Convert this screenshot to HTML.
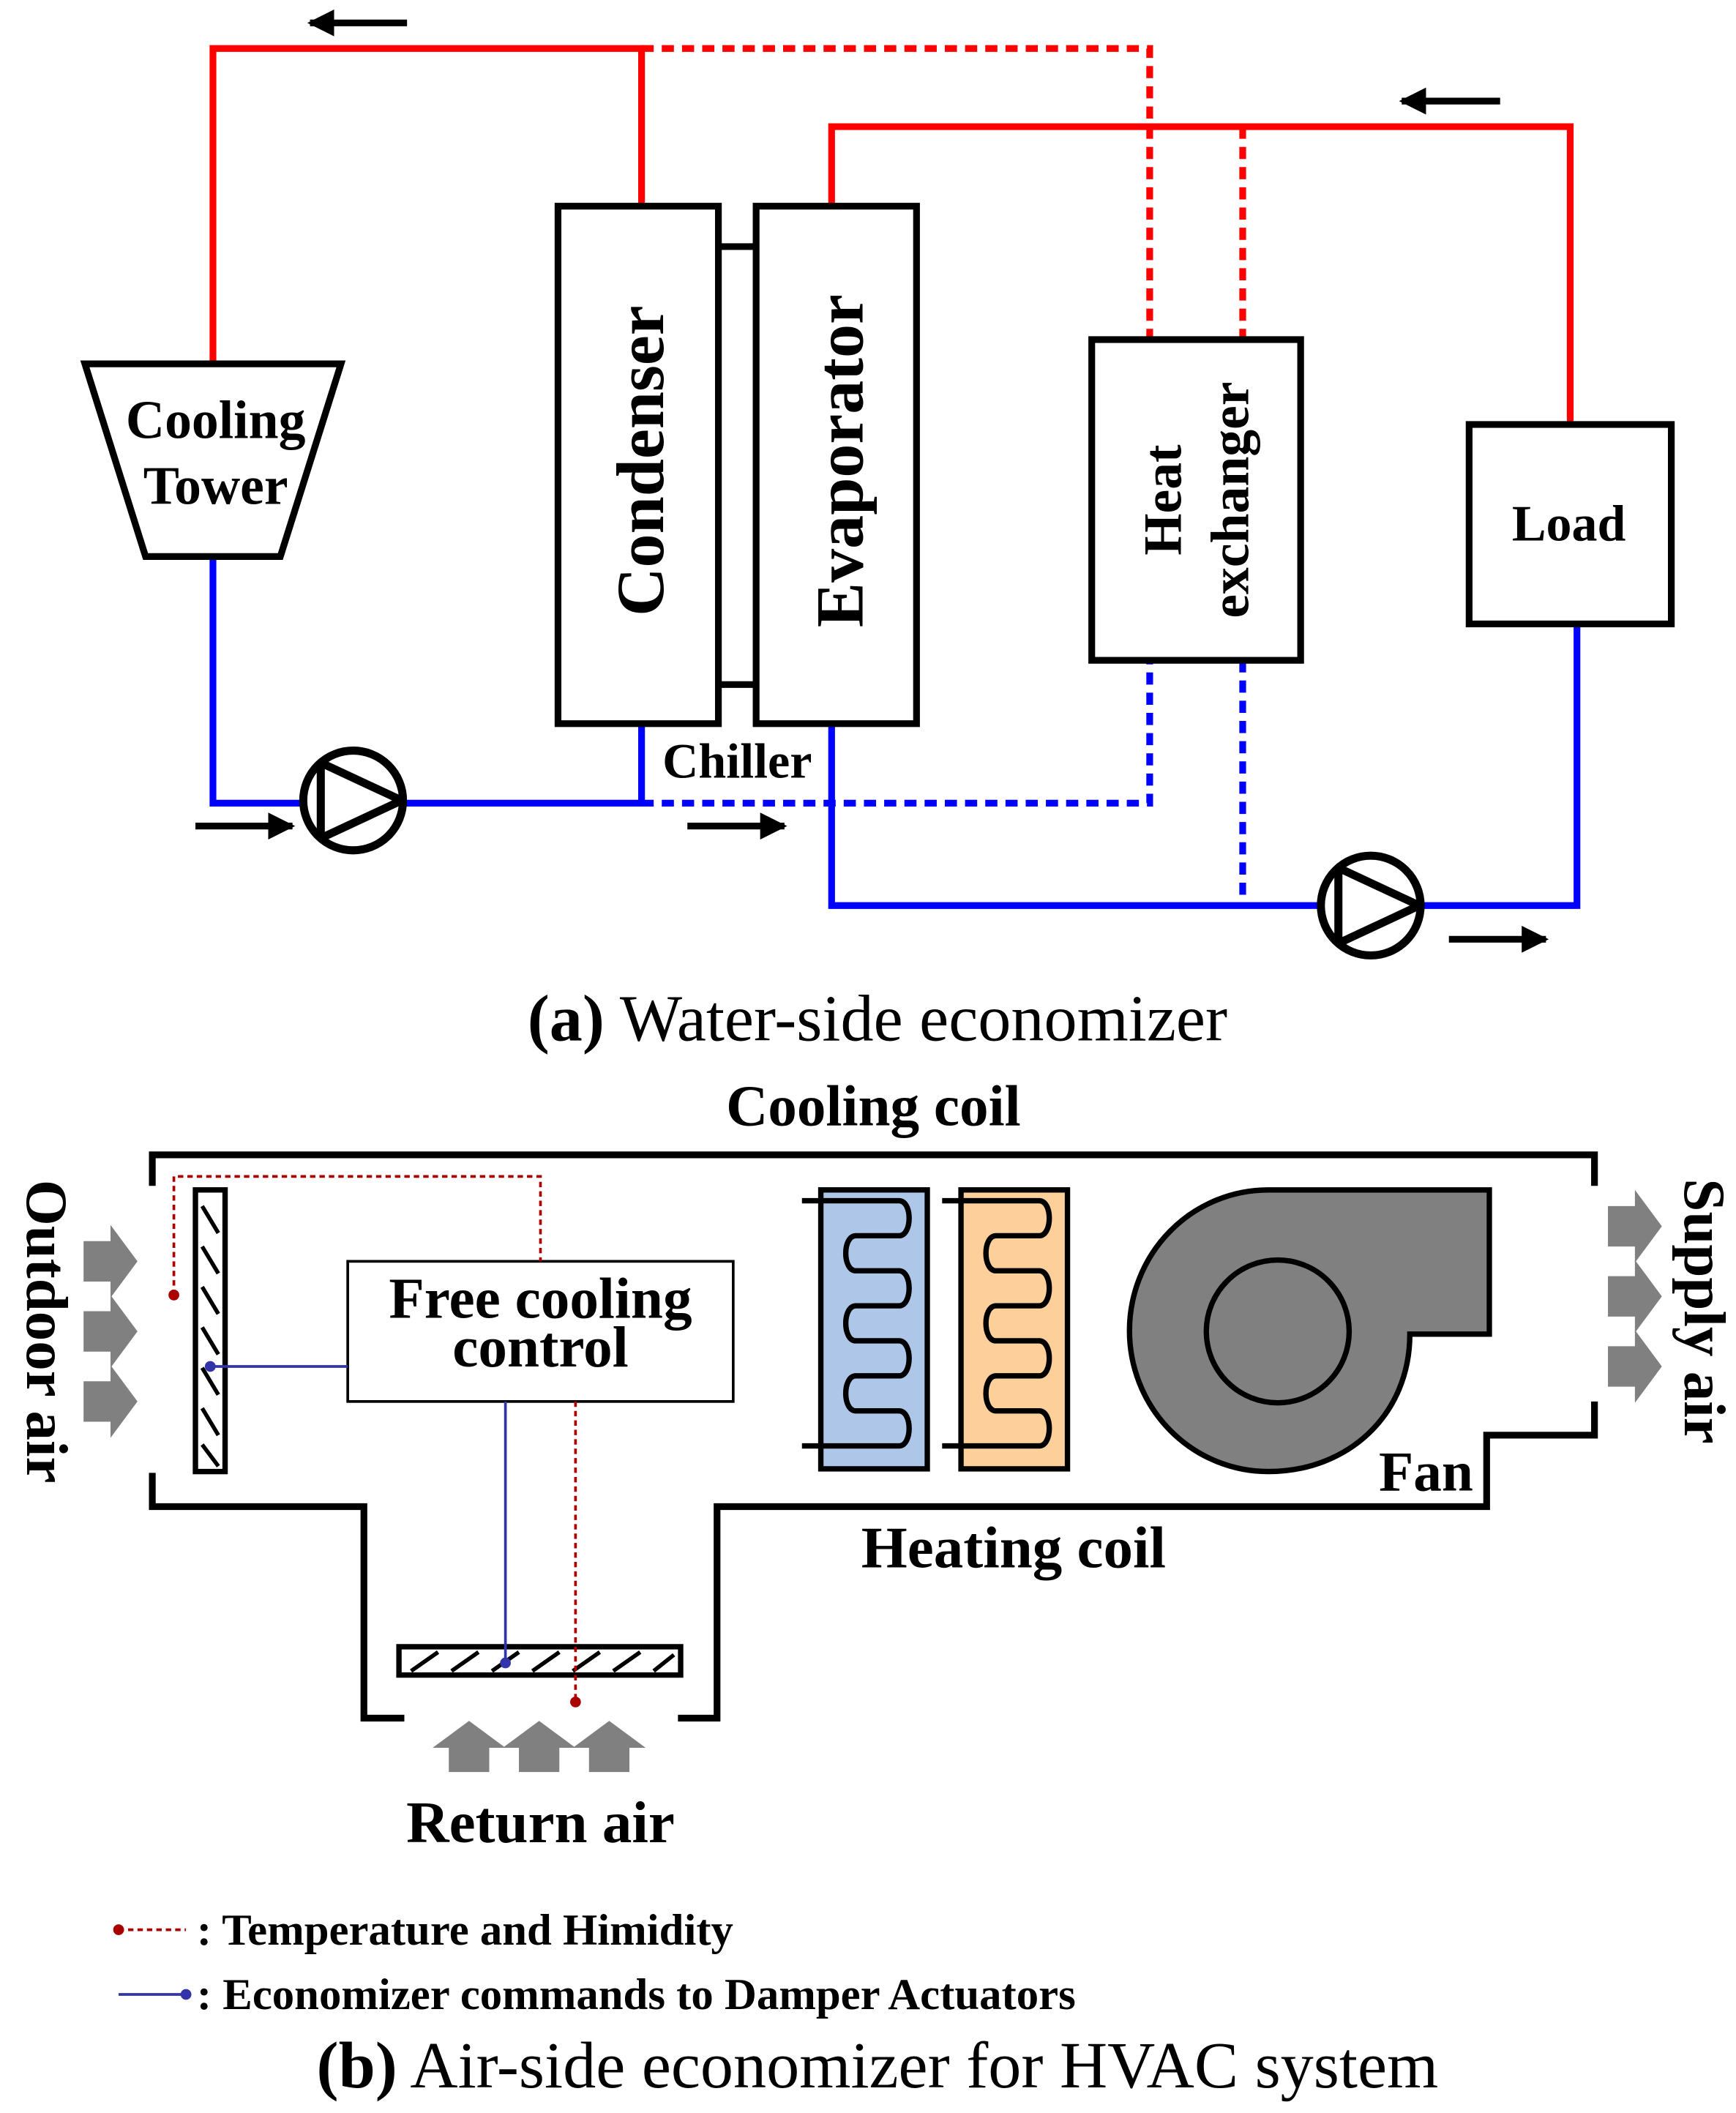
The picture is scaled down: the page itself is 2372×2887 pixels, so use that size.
<!DOCTYPE html>
<html><head><meta charset="utf-8"><style>html,body{margin:0;padding:0;background:#fff}svg{display:block}</style></head>
<body>
<svg width="2372" height="2887" viewBox="0 0 1288 1568" preserveAspectRatio="none" xmlns="http://www.w3.org/2000/svg" font-family="'Liberation Serif', serif">
<defs>
<marker id="ah" viewBox="0 0 10 10" refX="9" refY="5" markerWidth="4" markerHeight="4" orient="auto"><path d="M0 0 L10 5 L0 10 Z" fill="#000"/></marker>
<g id="pump"><circle cx="0" cy="0" r="37" fill="#fff" stroke="#000" stroke-width="6"/><path d="M-24 -28 L-24 28 L36 0 Z" fill="none" stroke="#000" stroke-width="6" stroke-linejoin="round"/></g>
<path id="serp" d="M-14 891 H58 C68 891 68 917 58 917 H26 C16 917 16 943 26 943 H58 C68 943 68 969 58 969 H26 C16 969 16 995 26 995 H58 C68 995 68 1021 58 1021 H26 C16 1021 16 1047 26 1047 H58 C68 1047 68 1073 58 1073 H-14" fill="none" stroke="#000" stroke-width="4"/>
<path id="chev" d="M0 0 L20 0 L20 -12 L40 15 L20 42 L20 30 L0 30 Z" fill="#808080"/>
<path id="up" d="M0 0 L0 -18 L-12 -18 L15 -38 L42 -18 L30 -18 L30 0 Z" fill="#808080"/>
</defs>
<g fill="none" stroke="#f00" stroke-width="5">
<path d="M158 270 V36 H476 V153"/>
<path d="M617 153 V94 H1165 V315"/>
</g>
<g fill="none" stroke="#f00" stroke-width="5" stroke-dasharray="9 6">
<path d="M476 36 H853 V252"/>
<path d="M922 94 V252"/>
</g>
<g fill="none" stroke="#00f" stroke-width="5">
<path d="M158 413 V596 H476 V537"/>
<path d="M617 537 V672 H1170 V463"/>
</g>
<g fill="none" stroke="#00f" stroke-width="5" stroke-dasharray="9 6">
<path d="M476 596 H853 V490"/>
<path d="M922 490 V672"/>
</g>
<use href="#pump" x="262" y="594"/>
<use href="#pump" x="1017" y="672"/>
<g stroke="#000" stroke-width="5" marker-end="url(#ah)">
<line x1="302" y1="17" x2="230" y2="17"/>
<line x1="1113" y1="75" x2="1040" y2="75"/>
<line x1="145" y1="613" x2="217" y2="613"/>
<line x1="510" y1="613" x2="582" y2="613"/>
<line x1="1075" y1="697" x2="1147" y2="697"/>
</g>
<path d="M63 270 H253 L208 413 H108 Z" fill="#fff" stroke="#000" stroke-width="5"/>
<g fill="#fff" stroke="#000" stroke-width="5">
<rect x="414" y="153" width="119" height="384"/>
<rect x="561" y="153" width="119" height="384"/>
<rect x="810" y="252" width="155" height="238"/>
<rect x="1090" y="315" width="150" height="148"/>
</g>
<g stroke="#000" stroke-width="5"><line x1="533" y1="183" x2="561" y2="183"/><line x1="533" y1="508" x2="561" y2="508"/></g>
<g font-weight="bold" fill="#000" text-anchor="middle">
<text x="160" y="325" font-size="40">Cooling</text>
<text x="160" y="374" font-size="40">Tower</text>
<text transform="translate(492,342) rotate(-90)" font-size="50">Condenser</text>
<text transform="translate(640,342) rotate(-90)" font-size="50">Evaporator</text>
<text transform="translate(876,371) rotate(-90)" font-size="40">Heat</text>
<text transform="translate(926,371) rotate(-90)" font-size="40">exchanger</text>
<text x="1164" y="401" font-size="38">Load</text>
<text x="547" y="577" font-size="37">Chiller</text>
</g>
<text x="651" y="772" font-size="49" text-anchor="middle"><tspan font-weight="bold">(a)</tspan> Water-side economizer</text>
<text x="648" y="835" font-size="43" font-weight="bold" text-anchor="middle">Cooling coil</text>
<g fill="none" stroke="#000" stroke-width="5">
<path d="M113 880 V857 H1183 V880"/>
<path d="M1183 1040 V1065 H1103 V1118 H532 V1275 H503"/>
<path d="M113 1093 V1118 H270 V1275 H300"/>
</g>
<rect x="145" y="883" width="22" height="209" fill="#fff" stroke="#000" stroke-width="4"/>
<path d="M150 895 L162 915 M150 925 L162 945 M150 955 L162 975 M150 985 L162 1005 M150 1015 L162 1035 M150 1045 L162 1065 M150 1072 L162 1088" stroke="#000" stroke-width="3"/>
<rect x="296" y="1222" width="209" height="21" fill="#fff" stroke="#000" stroke-width="4"/>
<path d="M305 1240 L325 1226 M335 1240 L355 1226 M365 1240 L385 1226 M395 1240 L415 1226 M425 1240 L445 1226 M455 1240 L475 1226 M485 1240 L500 1228" stroke="#000" stroke-width="3"/>
<rect x="258" y="936" width="286" height="104" fill="#fff" stroke="#000" stroke-width="2"/>
<text x="401" y="978" font-size="43" font-weight="bold" text-anchor="middle">Free cooling</text>
<text x="401" y="1014" font-size="43" font-weight="bold" text-anchor="middle">control</text>
<g fill="none" stroke="#a00" stroke-width="2" stroke-dasharray="4 3">
<path d="M129 961 V873 H401 V936"/>
<path d="M427 1040 V1263"/>
</g>
<circle cx="129" cy="961" r="4" fill="#a00"/><circle cx="427" cy="1263" r="4" fill="#a00"/>
<g fill="none" stroke="#33a" stroke-width="2"><path d="M156 1014 H258"/><path d="M375 1040 V1234"/></g>
<circle cx="156" cy="1014" r="4" fill="#33a"/><circle cx="375" cy="1234" r="4" fill="#33a"/>
<rect x="609" y="883" width="79" height="207" fill="#aec7e8" stroke="#000" stroke-width="4"/>
<rect x="713" y="883" width="79" height="207" fill="#fdcf9a" stroke="#000" stroke-width="4"/>
<use href="#serp" x="609"/>
<use href="#serp" x="713"/>
<path d="M941 883 L1105 883 L1105 990 L1046 990 C1046 1050 1000 1092 941 1092 A103 104.5 0 0 1 941 883 Z" fill="#808080" stroke="#000" stroke-width="4"/>
<circle cx="948" cy="988" r="53" fill="#808080" stroke="#000" stroke-width="4"/>
<text x="1058" y="1106" font-size="42" font-weight="bold" text-anchor="middle">Fan</text>
<use href="#chev" x="62" y="921"/><use href="#chev" x="62" y="973"/><use href="#chev" x="62" y="1025"/>
<use href="#chev" x="1193" y="895"/><use href="#chev" x="1193" y="947"/><use href="#chev" x="1193" y="999"/>
<use href="#up" x="333" y="1315"/><use href="#up" x="385" y="1315"/><use href="#up" x="437" y="1315"/>
<text transform="translate(20,988) rotate(90)" font-size="44" font-weight="bold" text-anchor="middle">Outdoor air</text>
<text transform="translate(1250,973) rotate(90)" font-size="44" font-weight="bold" text-anchor="middle">Supply air</text>
<text x="752" y="1163" font-size="44" font-weight="bold" text-anchor="middle">Heating coil</text>
<text x="401" y="1367" font-size="44" font-weight="bold" text-anchor="middle">Return air</text>
<line x1="88" y1="1432" x2="138" y2="1432" stroke="#a00" stroke-width="2" stroke-dasharray="4 3"/><circle cx="88" cy="1432" r="4" fill="#a00"/>
<text x="146" y="1443" font-size="33" font-weight="bold">: Temperature and Himidity</text>
<line x1="88" y1="1480" x2="138" y2="1480" stroke="#33a" stroke-width="2"/><circle cx="138" cy="1480" r="4" fill="#33a"/>
<text x="146" y="1491" font-size="33" font-weight="bold">: Economizer commands to Damper Actuators</text>
<text x="651" y="1549" font-size="49" text-anchor="middle"><tspan font-weight="bold">(b)</tspan> Air-side economizer for HVAC system</text>
</svg>
</body></html>
